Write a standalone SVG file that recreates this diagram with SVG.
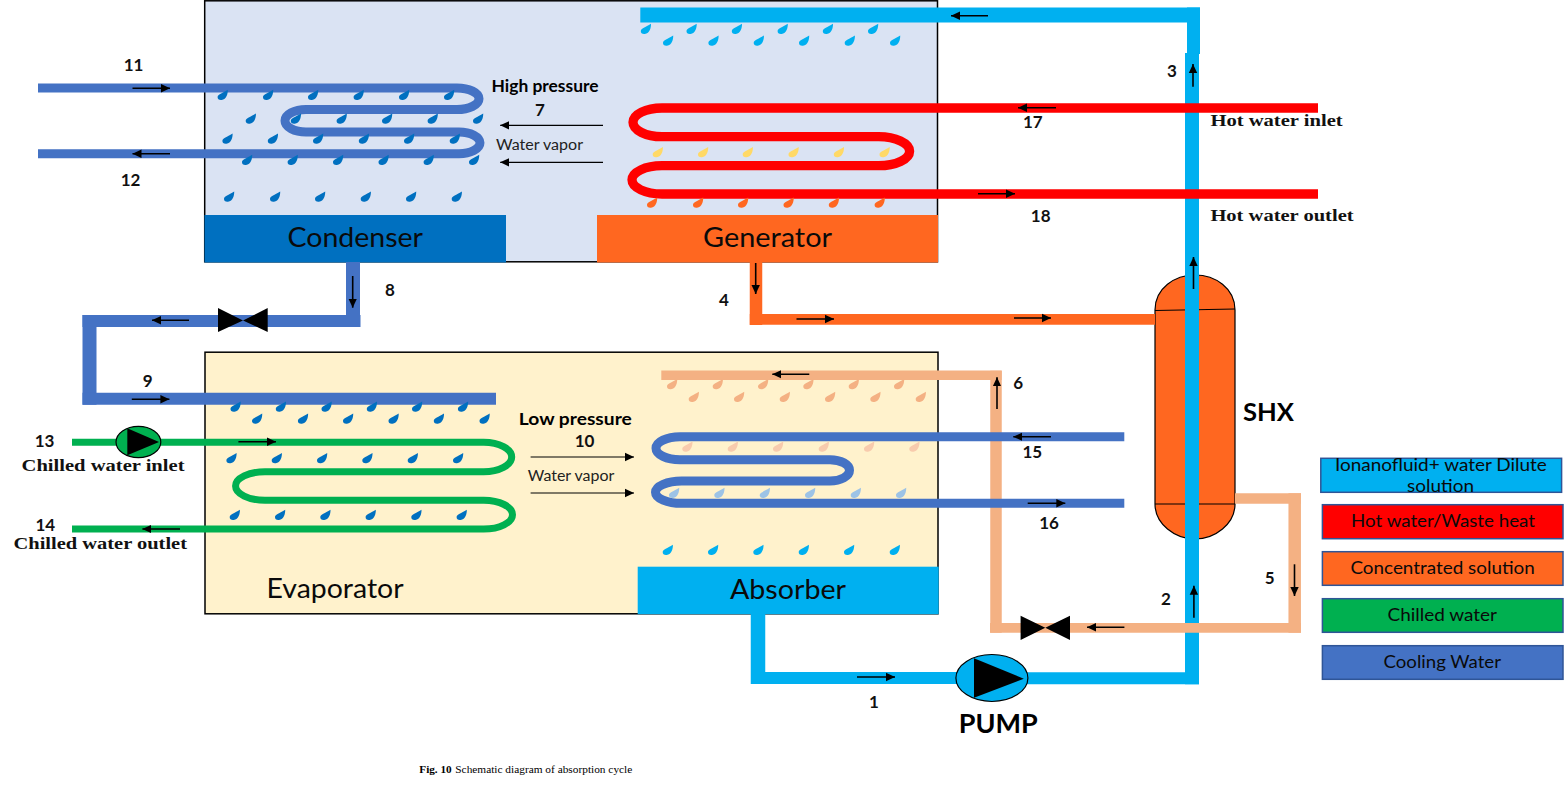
<svg xmlns="http://www.w3.org/2000/svg" xmlns:xlink="http://www.w3.org/1999/xlink" width="1566" height="795" viewBox="0 0 1566 795">
<style>
text{fill:#000;font-family:"Lato","Noto Sans",sans-serif}
.num{font-size:17px;font-weight:700;text-anchor:middle;fill:#111}
.bold{font-size:17px;font-weight:700}
.small{font-size:14.5px;fill:#222}
.title{font-size:26px;fill:#0a0a0a}
.leg{font-size:17px;fill:#0a0a0a}
text.serif{font-family:"Liberation Serif",serif;font-size:17.5px;font-weight:700;fill:#111}
.vessel{stroke:#000;stroke-width:1.5}
.legbox{stroke:#2f5597;stroke-width:1.5}
.tube{fill:none;stroke-linejoin:round}
.cyan{stroke:#00b0f0}.blue{stroke:#4472c4}.red{stroke:#f00}.green{stroke:#00b050}.orange{stroke:#ff6720}.pale{stroke:#f4b183}
.flow{stroke:#000;stroke-width:1.6;fill:none;marker-end:url(#head)}
.arrowv{stroke:#000;stroke-width:1.2;fill:none;marker-end:url(#head)}
.pumpbody{stroke:#000;stroke-width:1.2}
</style>
<defs>
<marker id="head" markerUnits="userSpaceOnUse" markerWidth="10" markerHeight="10" refX="9" refY="5" orient="auto"><path d="M0 .8L9 5L0 9.2Z" fill="#000"/></marker>
<path id="d" d="M5.2-5.2C5.4-1.5 4 4.5-1 5C-3.5 5.3-5.2 4-5 2C-4.8-.5-.5-1.5 5.2-5.2Z"/>
</defs>
<rect width="1566" height="795" fill="#fff"/>

<g id="high-pressure-vessel"><rect class="vessel" x="204.7" y="0.8" width="732.8" height="261" fill="#dae3f3"/></g>
<g id="low-pressure-vessel"><rect class="vessel" x="205" y="352.2" width="733" height="261.6" fill="#fff2cc"/></g>
<g id="condenser"><rect x="204.5" y="215" width="301.5" height="47.5" fill="#0070c0"/><text class="title" x="287.5" y="246.7" textLength="135.5" lengthAdjust="spacingAndGlyphs">Condenser</text></g>
<g id="generator"><rect x="597" y="215" width="341" height="47.5" fill="#ff6720"/><text class="title" x="703" y="246.7" textLength="129" lengthAdjust="spacingAndGlyphs">Generator</text></g>
<g id="evaporator"><text class="title" x="266.5" y="598.3" textLength="137" lengthAdjust="spacingAndGlyphs">Evaporator</text></g>
<g id="absorber"><rect x="637.7" y="566.7" width="301" height="47.5" fill="#00b0f0"/><text class="title" x="730" y="599" textLength="116" lengthAdjust="spacingAndGlyphs">Absorber</text></g>
<g id="shx"><path d="M1155 310C1155 288 1175 275 1195 275C1215 275 1235 288 1235 310V504C1235 524 1215 539 1195 539C1175 539 1155 524 1155 504Z" fill="#ff6720" stroke="#000" stroke-width="1.2"/><path d="M1155 310.5L1235 309M1155 504H1235" stroke="#000" stroke-width="1.2" fill="none"/><text class="bold" x="1243" y="421" style="font-size:25px" textLength="51" lengthAdjust="spacingAndGlyphs">SHX</text></g>

<g id="connectors">
<path class="tube blue" stroke-width="14" d="M353 262V321"/>
<path class="tube blue" stroke-width="12" d="M360.5 321H82.5"/>
<path class="tube blue" stroke-width="14" d="M89.5 315V404.7"/>
<path class="tube blue" stroke-width="12" d="M82.5 398.7H496"/>
<path class="tube orange" stroke-width="12.5" d="M756 262V325"/>
<path class="tube orange" stroke-width="10.7" d="M749.8 319.3H1155"/>
<path class="tube cyan" stroke-width="15" d="M640.3 15H1200"/>
<path class="tube cyan" stroke-width="13" d="M1193.5 7.5V54"/>
<path class="tube cyan" stroke-width="14" d="M1192 53V684.3"/>
<path class="tube cyan" stroke-width="12" d="M1199 678.3H1000"/>
<path class="tube cyan" stroke-width="14.5" d="M758 614V684"/>
<path class="tube cyan" stroke-width="12" d="M751 678H965"/>
<path class="tube pale" stroke-width="11.5" d="M996 370.7V632.7"/>
<path class="tube pale" stroke-width="9.5" d="M1001.7 375.3H661.3"/>
<path class="tube pale" stroke-width="10.4" d="M1235 498.5H1301"/>
<path class="tube pale" stroke-width="12.5" d="M1294.7 493.3V632.7"/>
<path class="tube pale" stroke-width="9.7" d="M1301 627.8H990"/>
<path class="tube blue" stroke-width="9" d="M38 88H457A22 10.75 0 0 1 457 109.5H306A21 11.25 0 0 0 306 132H459A21 10.85 0 0 1 459 153.7H38"/>
<path class="tube red" stroke-width="9.3" d="M1318 108H662A29 14.35 0 0 0 662 136.7H878.6A31 14.5 0 0 1 878.6 165.7H662A30 14.15 0 0 0 662 194H1318"/>
<path class="tube green" stroke-width="7" d="M72 442.3H483.7A28 14.7 0 0 1 483.7 471.7H265A29.5 14.3 0 0 0 265 500.3H483.7A28.8 14.35 0 0 1 483.7 529H72"/>
<path class="tube blue" stroke-width="9" d="M1124.3 436.7H680A24 11.5 0 0 0 680 459.7H830A19.5 10.65 0 0 1 830 481H681.7A26.2 11.15 0 0 0 681.7 503.3H1124.3"/>
<path class="flow" d="M988 15.7H951"/>
<path class="flow" d="M1193 86.7V64"/>
<path class="flow" d="M1193.5 289V257"/>
<path class="flow" d="M1056 107.7H1018"/>
<path class="flow" d="M978 193.7H1015"/>
<path class="flow" d="M755.7 263V294"/>
<path class="flow" d="M796.5 319H834"/>
<path class="flow" d="M1014 318H1051"/>
<path class="flow" d="M132.5 88.3H170"/>
<path class="flow" d="M170 153.7H132.5"/>
<path class="flow" d="M352.7 276V307.7"/>
<path class="flow" d="M189 320.3H152"/>
<path class="flow" d="M131.8 399.3H169.4"/>
<path class="flow" d="M238.4 441.7H276"/>
<path class="flow" d="M180 529H142.4"/>
<path class="flow" d="M809.3 374.3H772.3"/>
<path class="flow" d="M997 409V377.3"/>
<path class="flow" d="M1051 436.7H1013.3"/>
<path class="flow" d="M1027.7 503.3H1065.3"/>
<path class="flow" d="M1294.5 564.3V596"/>
<path class="flow" d="M1193.9 617.7V585.7"/>
<path class="flow" d="M1124.4 627.3H1087"/>
<path class="flow" d="M857 677H895"/>
<path class="arrowv" d="M603 125.3H500.2"/>
<path class="arrowv" d="M603 162.3H500.2"/>
<path class="arrowv" d="M530.6 457H634"/>
<path class="arrowv" d="M530.6 493H634"/>
</g>

<g id="droplets">
<g fill="#0070c0">
<use xlink:href="#d" x="222.6" y="95"/><use xlink:href="#d" x="268" y="95"/><use xlink:href="#d" x="313" y="95"/><use xlink:href="#d" x="358.6" y="95"/><use xlink:href="#d" x="404" y="95"/><use xlink:href="#d" x="449" y="95"/>
<use xlink:href="#d" x="250.7" y="118.7"/><use xlink:href="#d" x="295.8" y="118.7"/><use xlink:href="#d" x="341.6" y="118.7"/><use xlink:href="#d" x="387" y="118.7"/><use xlink:href="#d" x="432.6" y="118.7"/><use xlink:href="#d" x="478" y="118.7"/>
<use xlink:href="#d" x="227.4" y="138.7"/><use xlink:href="#d" x="272.8" y="138.7"/><use xlink:href="#d" x="318" y="138.7"/><use xlink:href="#d" x="363.8" y="138.7"/><use xlink:href="#d" x="409" y="138.7"/><use xlink:href="#d" x="454.7" y="138.7"/>
<use xlink:href="#d" x="247" y="160"/><use xlink:href="#d" x="292.6" y="160"/><use xlink:href="#d" x="338" y="160"/><use xlink:href="#d" x="383.5" y="160"/><use xlink:href="#d" x="428.6" y="160"/><use xlink:href="#d" x="474" y="160"/>
<use xlink:href="#d" x="229" y="196.7"/><use xlink:href="#d" x="275" y="196.7"/><use xlink:href="#d" x="320" y="196.7"/><use xlink:href="#d" x="365.7" y="196.7"/><use xlink:href="#d" x="411" y="196.7"/><use xlink:href="#d" x="456.7" y="196.7"/>
<use xlink:href="#d" x="235.5" y="406.7"/><use xlink:href="#d" x="280.8" y="406.7"/><use xlink:href="#d" x="326.5" y="406.7"/><use xlink:href="#d" x="371.8" y="406.7"/><use xlink:href="#d" x="417" y="406.7"/><use xlink:href="#d" x="462.9" y="406.7"/>
<use xlink:href="#d" x="257" y="418.7"/><use xlink:href="#d" x="302.9" y="418.7"/><use xlink:href="#d" x="348" y="418.7"/><use xlink:href="#d" x="393.5" y="418.7"/><use xlink:href="#d" x="438.8" y="418.7"/><use xlink:href="#d" x="484.5" y="418.7"/>
<use xlink:href="#d" x="231.4" y="458.3"/><use xlink:href="#d" x="276.7" y="458.3"/><use xlink:href="#d" x="322" y="458.3"/><use xlink:href="#d" x="367.3" y="458.3"/><use xlink:href="#d" x="412.7" y="458.3"/><use xlink:href="#d" x="458" y="458.3"/>
<use xlink:href="#d" x="234.7" y="515"/><use xlink:href="#d" x="280" y="515"/><use xlink:href="#d" x="325.3" y="515"/><use xlink:href="#d" x="370.6" y="515"/><use xlink:href="#d" x="416.3" y="515"/><use xlink:href="#d" x="461.6" y="515"/>
</g>
<g fill="#00b0f0">
<use xlink:href="#d" x="645.8" y="29"/><use xlink:href="#d" x="691.5" y="29"/><use xlink:href="#d" x="736.8" y="29"/><use xlink:href="#d" x="782.6" y="29"/><use xlink:href="#d" x="827.8" y="29"/><use xlink:href="#d" x="873" y="29"/>
<use xlink:href="#d" x="668" y="40.7"/><use xlink:href="#d" x="713.4" y="40.7"/><use xlink:href="#d" x="758.7" y="40.7"/><use xlink:href="#d" x="804" y="40.7"/><use xlink:href="#d" x="849.7" y="40.7"/><use xlink:href="#d" x="895" y="40.7"/>
<use xlink:href="#d" x="667.7" y="550"/><use xlink:href="#d" x="713" y="550"/><use xlink:href="#d" x="758.3" y="550"/><use xlink:href="#d" x="803.7" y="550"/><use xlink:href="#d" x="849" y="550"/><use xlink:href="#d" x="894.7" y="550"/>
</g>
<g fill="#ffd966">
<use xlink:href="#d" x="657.7" y="152.3"/><use xlink:href="#d" x="703" y="152.3"/><use xlink:href="#d" x="747.7" y="152.3"/><use xlink:href="#d" x="793.5" y="152.3"/><use xlink:href="#d" x="838.8" y="152.3"/><use xlink:href="#d" x="884.5" y="152.3"/>
</g>
<g fill="#ff6720">
<use xlink:href="#d" x="652" y="202.8"/><use xlink:href="#d" x="698" y="202.8"/><use xlink:href="#d" x="743" y="202.8"/><use xlink:href="#d" x="788.5" y="202.8"/><use xlink:href="#d" x="833.8" y="202.8"/><use xlink:href="#d" x="879.6" y="202.8"/>
</g>
<g fill="#f4b183">
<use xlink:href="#d" x="672" y="384.3"/><use xlink:href="#d" x="717.7" y="384.3"/><use xlink:href="#d" x="763" y="384.3"/><use xlink:href="#d" x="808.3" y="384.3"/><use xlink:href="#d" x="853.7" y="384.3"/><use xlink:href="#d" x="899" y="384.3"/>
<use xlink:href="#d" x="693.7" y="397"/><use xlink:href="#d" x="739" y="397"/><use xlink:href="#d" x="784.7" y="397"/><use xlink:href="#d" x="830" y="397"/><use xlink:href="#d" x="875.3" y="397"/><use xlink:href="#d" x="920.7" y="397"/>
</g>
<g fill="#f8cbad">
<use xlink:href="#d" x="687.3" y="446.7"/><use xlink:href="#d" x="732.7" y="446.7"/><use xlink:href="#d" x="778" y="446.7"/><use xlink:href="#d" x="823.7" y="446.7"/><use xlink:href="#d" x="869" y="446.7"/><use xlink:href="#d" x="914.3" y="446.7"/>
</g>
<g fill="#9dc3e6">
<use xlink:href="#d" x="674" y="493"/><use xlink:href="#d" x="719.3" y="493"/><use xlink:href="#d" x="764.7" y="493"/><use xlink:href="#d" x="810" y="493"/><use xlink:href="#d" x="855.7" y="493"/><use xlink:href="#d" x="901" y="493"/>
</g>
</g>

<g id="valve-8-9"><path d="M218 308L243 320.5L267.7 308V332L243 320.5L218 332Z" fill="#000"/></g>
<g id="valve-5-6"><path d="M1020.6 615.7L1045.3 627.8L1070 615.7V640L1045.3 627.8L1020.6 640Z" fill="#000"/></g>
<g id="chilled-water-pump"><ellipse class="pumpbody" cx="138.4" cy="442" rx="22.4" ry="15.7" fill="#00b050"/><path d="M127.3 428.3L159 442L127.3 455.3Z" fill="#000"/></g>
<g id="pump"><ellipse class="pumpbody" cx="991.9" cy="678" rx="36" ry="23.5" fill="#00b0f0"/><path d="M974 658.3L1023.8 678.7L974 697.7Z" fill="#000"/><text class="bold" x="958.8" y="733.3" style="font-size:26px" textLength="79" lengthAdjust="spacingAndGlyphs">PUMP</text></g>

<g id="labels">
<text class="num" x="133.6" y="70.7">11</text>
<text class="num" x="130.5" y="185.7">12</text>
<text class="num" x="390" y="296">8</text>
<text class="num" x="540" y="115.7">7</text>
<text class="num" x="1032.8" y="128.3">17</text>
<text class="num" x="1040.7" y="222">18</text>
<text class="num" x="1172" y="77.3">3</text>
<text class="num" x="724" y="305.7">4</text>
<text class="num" x="147.8" y="386.7">9</text>
<text class="num" x="44.5" y="446.7">13</text>
<text class="num" x="45.3" y="531">14</text>
<text class="num" x="584.5" y="446.7">10</text>
<text class="num" x="1018.3" y="388.7">6</text>
<text class="num" x="1032.3" y="458">15</text>
<text class="num" x="1049" y="529">16</text>
<text class="num" x="1269.7" y="584">5</text>
<text class="num" x="1166" y="604.7">2</text>
<text class="num" x="874" y="708">1</text>
<text class="bold" x="491.5" y="91.7" textLength="107" lengthAdjust="spacingAndGlyphs">High pressure</text>
<text class="bold" x="518.8" y="425.3" textLength="113" lengthAdjust="spacingAndGlyphs">Low pressure</text>
<text class="small" x="496" y="150" textLength="87" lengthAdjust="spacingAndGlyphs">Water vapor</text>
<text class="small" x="527.8" y="481.3" textLength="86.5" lengthAdjust="spacingAndGlyphs">Water vapor</text>
<text class="serif" x="1210.4" y="126" textLength="132.3" lengthAdjust="spacingAndGlyphs">Hot water inlet</text>
<text class="serif" x="1210.4" y="220.7" textLength="143.2" lengthAdjust="spacingAndGlyphs">Hot water outlet</text>
<text class="serif" x="21.6" y="470.7" textLength="162.9" lengthAdjust="spacingAndGlyphs">Chilled water inlet</text>
<text class="serif" x="13.5" y="549" textLength="173.5" lengthAdjust="spacingAndGlyphs">Chilled water outlet</text>
<text style="font-family:'Liberation Serif',serif;font-size:11px;font-weight:700" x="419.3" y="773.3" textLength="32.4" lengthAdjust="spacingAndGlyphs">Fig. 10</text>
<text style="font-family:'Liberation Serif',serif;font-size:11px" x="455.3" y="773.3" textLength="177" lengthAdjust="spacingAndGlyphs">Schematic diagram of absorption cycle</text>
</g>

<g id="legend-dilute"><rect class="legbox" x="1320.8" y="458.3" width="240.8" height="34" fill="#00b0f0"/><text class="leg" x="1335" y="470.7" textLength="211.8" lengthAdjust="spacingAndGlyphs">Ionanofluid+ water Dilute</text><text class="leg" x="1407" y="491.7" textLength="67" lengthAdjust="spacingAndGlyphs">solution</text></g>
<g id="legend-hot"><rect class="legbox" x="1322.4" y="504.7" width="240.6" height="34" fill="#f00"/><text class="leg" x="1351" y="526.7" textLength="184" lengthAdjust="spacingAndGlyphs">Hot water/Waste heat</text></g>
<g id="legend-concentrated"><rect class="legbox" x="1322.4" y="551.7" width="240.6" height="33.6" fill="#ff6720"/><text class="leg" x="1350.4" y="573.7" textLength="184.4" lengthAdjust="spacingAndGlyphs">Concentrated solution</text></g>
<g id="legend-chilled"><rect class="legbox" x="1322.4" y="598.7" width="240.6" height="33.6" fill="#00b050"/><text class="leg" x="1387.5" y="620.7" textLength="109.5" lengthAdjust="spacingAndGlyphs">Chilled water</text></g>
<g id="legend-cooling"><rect class="legbox" x="1322.4" y="645.7" width="240.6" height="33.6" fill="#4472c4"/><text class="leg" x="1383.5" y="667.7" textLength="117.5" lengthAdjust="spacingAndGlyphs">Cooling Water</text></g>
</svg>
